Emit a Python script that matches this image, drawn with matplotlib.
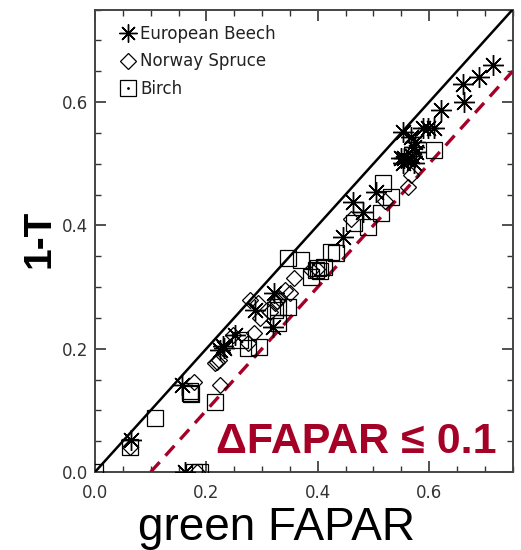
import matplotlib
matplotlib.use('Agg')
import matplotlib.pyplot as plt
from matplotlib.ticker import MultipleLocator, FormatStrFormatter
from matplotlib.legend_handler import HandlerTuple
from matplotlib.lines import Line2D

# green FAPAR (x) vs 1-T (y)
beech_x = [0.065, 0.157, 0.162, 0.225, 0.229, 0.232, 0.252, 0.288, 0.321, 0.319,
           0.445, 0.463, 0.481, 0.505, 0.553, 0.568, 0.573, 0.577, 0.550, 0.555,
           0.562, 0.553, 0.573, 0.589, 0.598, 0.609, 0.622, 0.661, 0.663, 0.690,
           0.715, 0.575, 0.570]
beech_y = [0.052, 0.141, 0.000, 0.198, 0.205, 0.201, 0.222, 0.262, 0.290, 0.235,
           0.381, 0.438, 0.421, 0.454, 0.551, 0.543, 0.527, 0.519, 0.509, 0.509,
           0.506, 0.501, 0.501, 0.558, 0.558, 0.558, 0.587, 0.630, 0.600, 0.640,
           0.660, 0.535, 0.512]

spruce_x = [0.063, 0.177, 0.225, 0.216, 0.222, 0.219, 0.247, 0.274, 0.285, 0.279,
            0.292, 0.297, 0.315, 0.324, 0.330, 0.327, 0.342, 0.357, 0.351, 0.387,
            0.398, 0.568, 0.562, 0.184, 0.520, 0.460]
spruce_y = [0.040, 0.146, 0.141, 0.177, 0.182, 0.178, 0.222, 0.209, 0.225, 0.279,
            0.274, 0.250, 0.259, 0.274, 0.282, 0.278, 0.295, 0.314, 0.290, 0.327,
            0.330, 0.481, 0.462, 0.000, 0.440, 0.410]

birch_x = [0.000, 0.063, 0.108, 0.171, 0.170, 0.173, 0.177, 0.189, 0.216, 0.261,
           0.294, 0.274, 0.328, 0.324, 0.346, 0.328, 0.346, 0.369, 0.387, 0.396,
           0.401, 0.404, 0.411, 0.423, 0.432, 0.465, 0.490, 0.517, 0.531, 0.514,
           0.609]
birch_y = [0.000, 0.041, 0.087, 0.128, 0.132, 0.126, 0.000, 0.000, 0.113, 0.214,
           0.203, 0.201, 0.268, 0.263, 0.268, 0.241, 0.347, 0.344, 0.316, 0.327,
           0.331, 0.326, 0.333, 0.357, 0.355, 0.404, 0.397, 0.468, 0.446, 0.420,
           0.522]

one_to_one = [0.0, 0.75]
offset = 0.1
red = '#A50026'
small_font = 'DejaVu Sans'

fig = plt.figure(figsize=(5.21, 5.5), dpi=100)
ax = fig.add_axes([95 / 521, 1 - 472 / 550, 417.7 / 521, 462.5 / 550])

ax.plot(one_to_one, one_to_one, color='black', lw=1.8, zorder=3)
ax.plot([offset, 0.75], [0.0, 0.75 - offset], color=red, lw=2.4,
        dashes=(4, 2.6), zorder=3)

star = (8, 2, 0)
ax.plot(beech_x, beech_y, ls='none', marker=star, ms=15, mec='black',
        mew=1.0, zorder=4)
ax.plot(spruce_x, spruce_y, ls='none', marker='D', ms=8.5, mfc='none',
        mec='black', mew=0.9, zorder=4)
ax.plot(birch_x, birch_y, ls='none', marker='s', ms=12, mfc='none',
        mec='black', mew=0.9, zorder=4)

ax.set_xlim(0, 0.75)
ax.set_ylim(0, 0.75)
for axis in (ax.xaxis, ax.yaxis):
    axis.set_major_locator(MultipleLocator(0.2))
    axis.set_minor_locator(MultipleLocator(0.05))
    axis.set_major_formatter(FormatStrFormatter('%.1f'))
ax.tick_params(which='both', direction='in', top=True, right=True,
               color='#333333', labelsize=12, labelcolor='#333333')
ax.tick_params(axis='x', pad=9)
ax.tick_params(axis='y', pad=5)
ax.tick_params(which='major', length=8, width=1.2)
ax.tick_params(which='minor', length=4, width=1.0)
for lab in ax.get_xticklabels() + ax.get_yticklabels():
    lab.set_family(small_font)
for sp in ax.spines.values():
    sp.set_color('#444444')
    sp.set_linewidth(1.4)

ax.set_xlabel('green FAPAR', fontsize=33, family='Liberation Sans')
ax.xaxis.set_label_coords((276 - 95) / 417.7, -(540 - 472) / 462.5)
ax.xaxis.label.set_va('baseline')
ax.set_ylabel('1-T', fontsize=28, fontweight='bold', family='Liberation Sans')
ax.yaxis.set_label_coords(-(95 - 40) / 417.7, (472 - 239) / 462.5)
ax.yaxis.label.set_va('center')

ax.text((497 - 95) / 417.7, (472 - 453) / 462.5, 'ΔFAPAR ≤ 0.1',
        transform=ax.transAxes, ha='right', va='baseline', fontsize=31,
        fontweight='bold', color=red, family=['Liberation Sans', 'DejaVu Sans'])

h_beech = Line2D([], [], ls='none', marker=star, ms=13, mec='black', mew=1.0)
h_spruce = Line2D([], [], ls='none', marker='D', ms=8, mfc='none',
                  mec='black', mew=0.9)
h_sq = Line2D([], [], ls='none', marker='s', ms=11, mfc='none',
              mec='black', mew=0.9)
h_dot = Line2D([], [], ls='none', marker='.', ms=2, color='black')
leg = ax.legend([h_beech, h_spruce, (h_sq, h_dot)],
                ['European Beech', 'Norway Spruce', 'Birch'],
                handler_map={tuple: HandlerTuple(ndivide=1)},
                loc='upper left', bbox_to_anchor=(0.026, 0.999), frameon=False,
                handlelength=0.9, handletextpad=0.25, labelspacing=0.57,
                prop={'family': small_font, 'size': 12})
for t in leg.get_texts():
    t.set_color('#222222')

fig.savefig('out.png', dpi=100)
